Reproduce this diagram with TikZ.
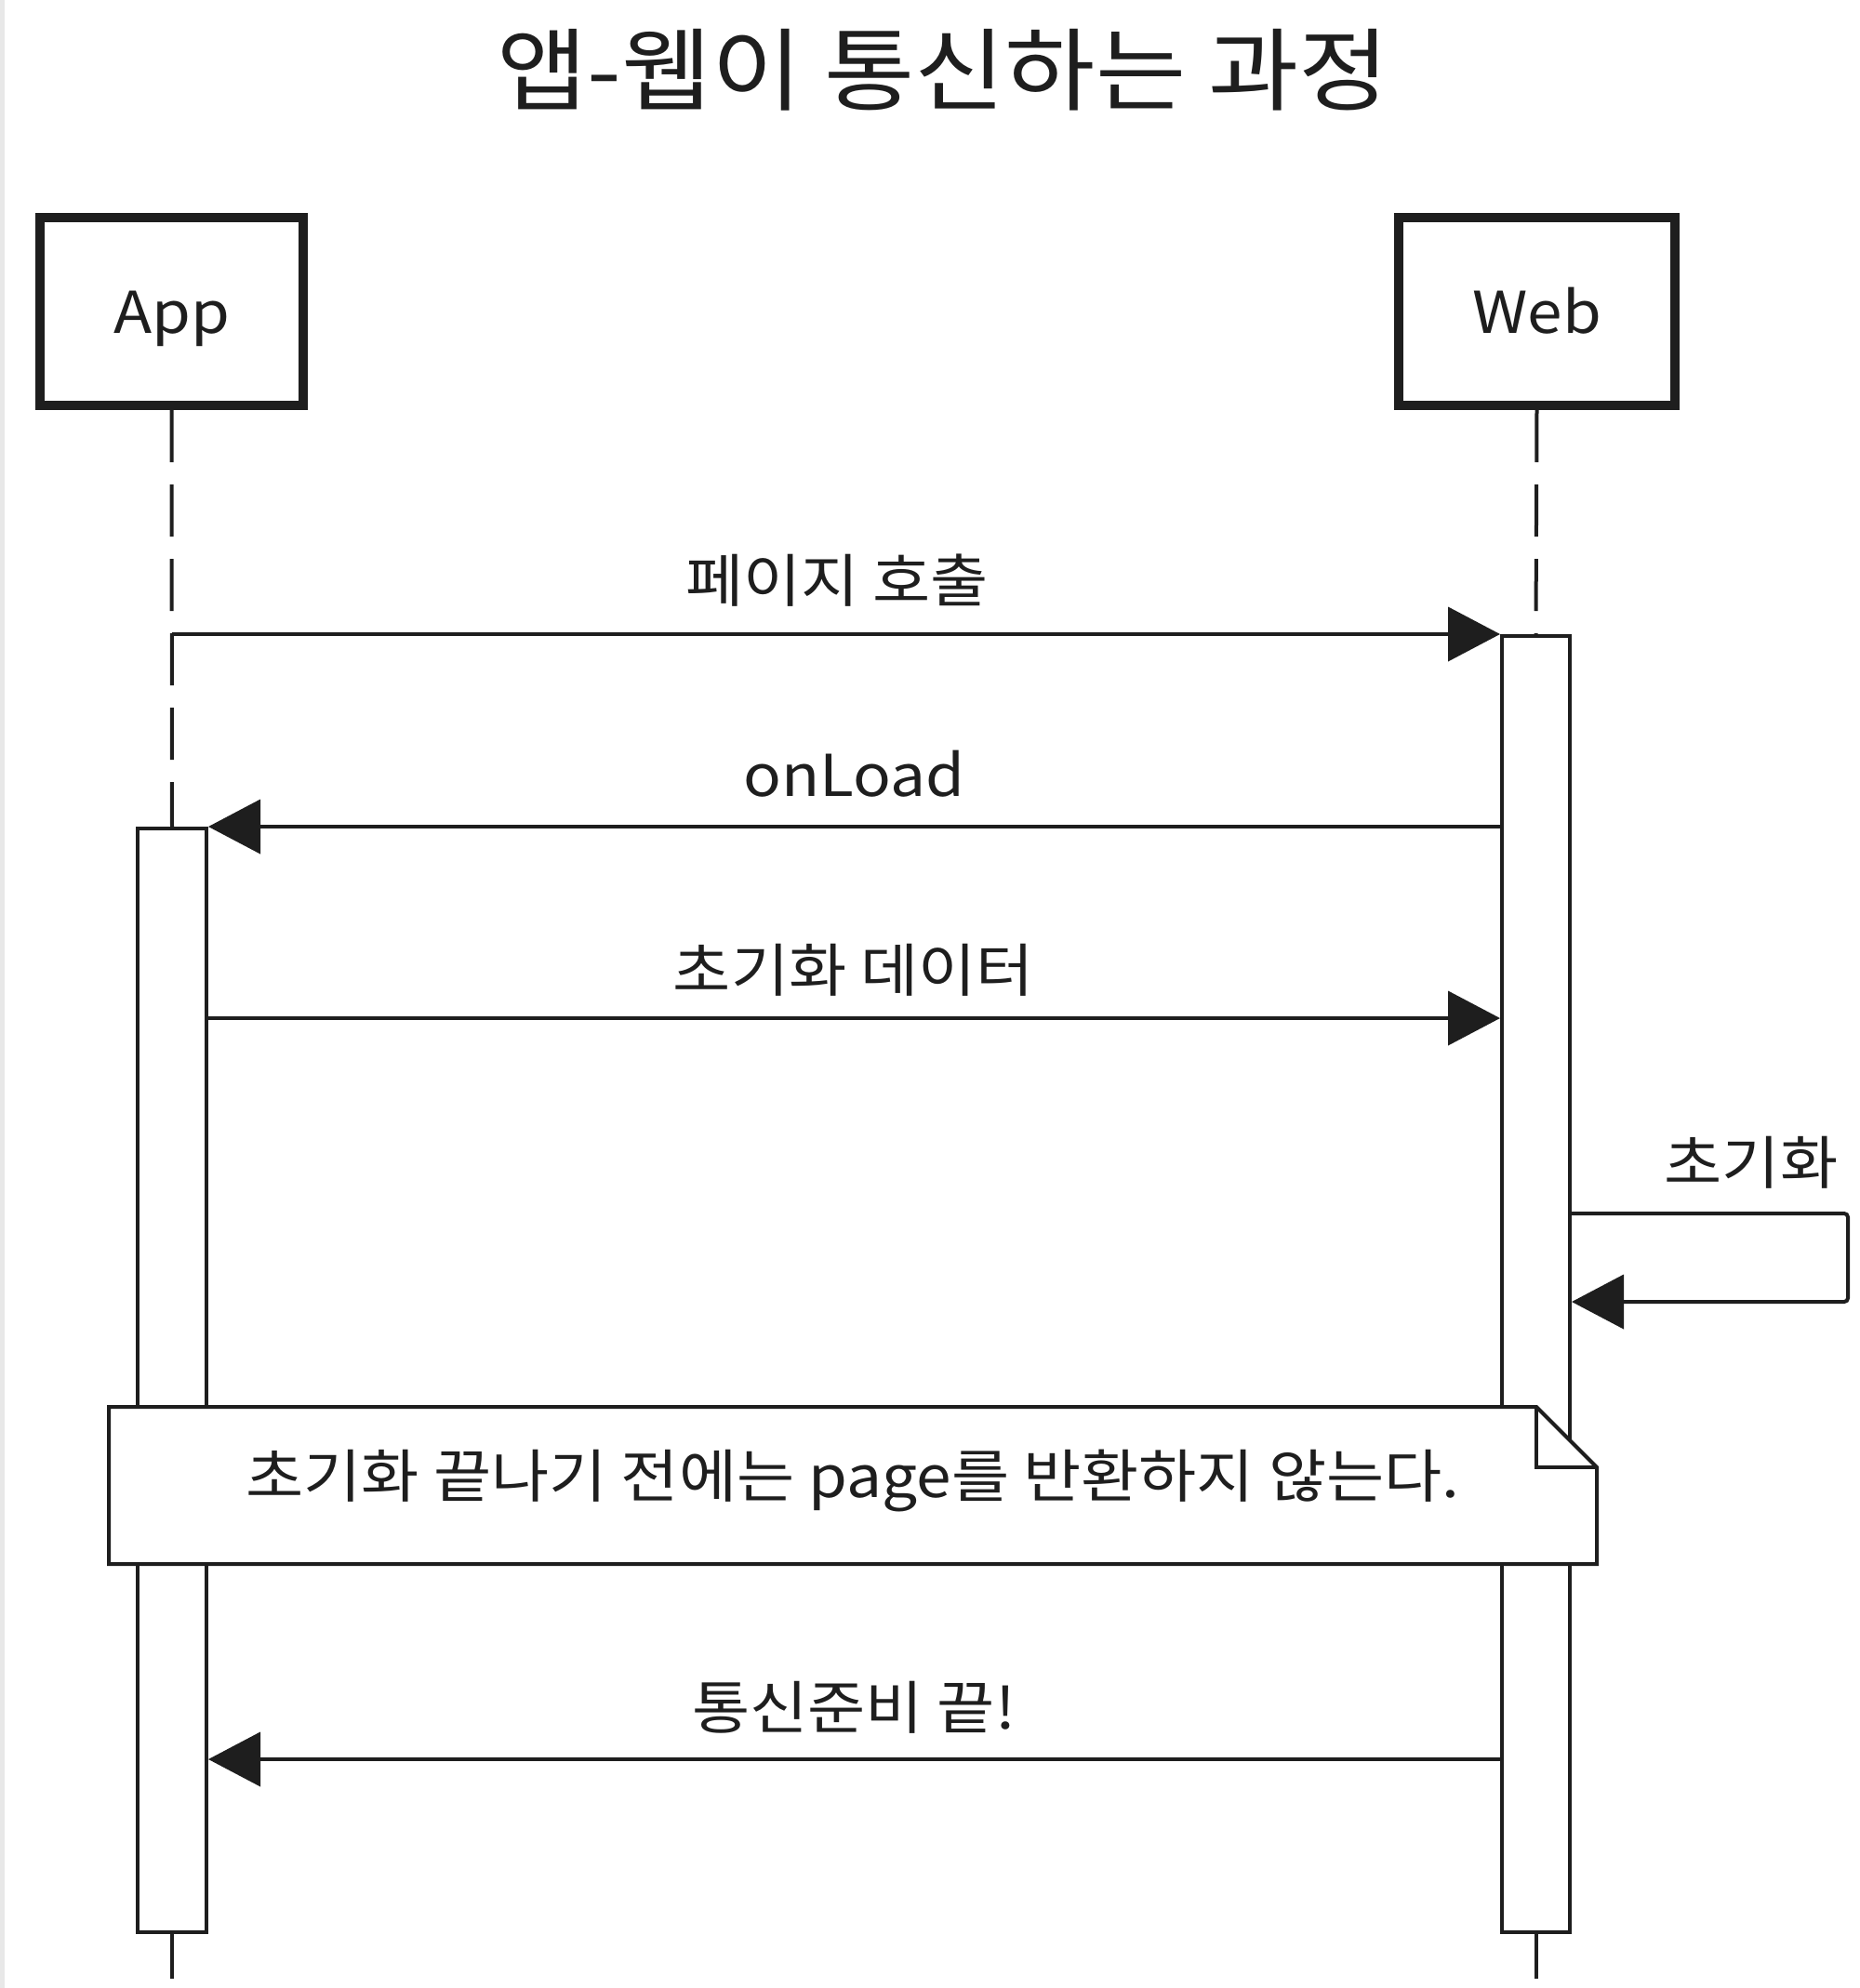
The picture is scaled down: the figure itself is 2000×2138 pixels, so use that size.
\documentclass[tikz,border=0pt]{standalone}
\usepackage{fontspec}
\setmainfont[FakeStretch=1.09]{Noto Sans CJK KR}
\usetikzlibrary{arrows.meta}
\definecolor{ink}{HTML}{1E1E1E}
\begin{document}
\begin{tikzpicture}[x=0.5pt,y=-0.5pt,
  actor/.style={draw=ink, line width=5pt, fill=white, inner sep=0pt, minimum height=101pt, text height=26pt, text depth=3pt, text=ink, font=\fontsize{31}{31}\selectfont},
  lifeline/.style={draw=ink, line width=2pt, dash pattern=on 28pt off 12pt},
  activation/.style={draw=ink, line width=2pt, fill=white, inner sep=0pt, anchor=north},
  msg/.style={draw=ink, line width=2pt, -{Triangle[length=28pt,width=29pt]}},
  lbl/.style={text=ink, inner sep=0pt, font=\fontsize{31}{31}\selectfont},
  notebox/.style={draw=ink, line width=2pt, fill=white, line join=miter}
]
\useasboundingbox (0,0) rectangle (2000,2138);
\fill[white] (0,0) rectangle (2000,2138);
\draw[gray!18, line width=2.5pt] (2.5,0) -- (2.5,2138);

% title
\node[text=ink, inner sep=0pt, font=\fontsize{48.5}{48.5}\selectfont] (title) at (1014,75) {앱-웹이 통신하는 과정};

% participants
\node[actor, minimum width=141.5pt] (app) at (184.5,335) {App};
\node[actor, minimum width=148.5pt] (web) at (1652.5,335) {Web};

% activation bars
\node[activation, minimum width=37pt, minimum height=593.5pt] (appact) at (185,889) {};
\node[activation, minimum width=36.5pt, minimum height=697pt] (webact) at (1651.5,682) {};

% lifelines
\coordinate (append) at (185,2128);
\coordinate (webend) at (1651.5,2128);
\draw[lifeline] (app.south) -- (appact.north);
\draw[lifeline] (web.south) -- (webact.north);
\draw[lifeline] (appact.south) -- (append);
\draw[lifeline] (webact.south) -- (webend);

% messages
\coordinate (m1) at (184.5,682);
\draw[msg] (m1) -- (webact.west |- m1);
\node[lbl] (l1) at (900,624) {페이지 호출};

\coordinate (m2) at (0,889);
\draw[msg] (webact.west |- m2) -- (appact.east |- m2);
\node[lbl] (l2) at (918,832) {onLoad};

\coordinate (m3) at (0,1095);
\draw[msg] (appact.east |- m3) -- (webact.west |- m3);
\node[lbl] (l3) at (918,1043) {초기화 데이터};

\coordinate (s1) at (1987,1305);
\coordinate (s2) at (1987,1400);
\draw[msg, rounded corners=2pt] (webact.east |- s1) -- (s1) -- (s2) -- (webact.east |- s2);
\node[lbl] (l4) at (1883,1250) {초기화};

% note
\coordinate (n1) at (117,1513);
\coordinate (n2) at (1652,1513);
\coordinate (n3) at (1717,1578);
\coordinate (n4) at (1717,1682);
\coordinate (n5) at (117,1682);
\draw[notebox] (n1) -- (n2) -- (n3) -- (n4) -- (n5) -- cycle;
\draw[draw=ink, line width=2pt] (n2) -- (n2 |- n3) -- (n3);
\node[lbl] (note) at (917,1592) {초기화 끝나기 전에는 page를 반환하지 않는다.};

\coordinate (m5) at (0,1892);
\draw[msg] (webact.west |- m5) -- (appact.east |- m5);
\node[lbl] (l5) at (918,1836) {통신준비 끝!};
\end{tikzpicture}
\end{document}
